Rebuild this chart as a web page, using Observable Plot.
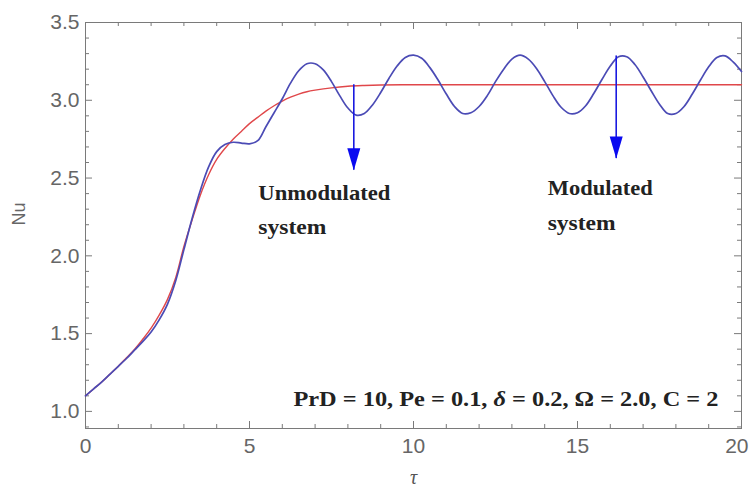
<!DOCTYPE html>
<html><head><meta charset="utf-8">
<script src="https://cdn.jsdelivr.net/npm/d3@7"></script>
<script src="https://cdn.jsdelivr.net/npm/@observablehq/plot@0.6"></script>
<style>body{margin:0;background:#fff}</style>
</head><body><div id="chart"></div>
<script>
// Unmodulated system (red)
const redTau = [0,0.25,0.5,0.75,1,1.25,1.5,1.75,2,2.25,2.5,2.75,3,3.25,3.5,3.75,4,4.25,4.5,4.75,5,5.25,5.5,5.75,6,6.25,6.5,6.75,7,7.5,8,8.5,9,10,11,12,13,14,15,16,17,18,19,20];
const redNu  = [1.100,1.145,1.190,1.240,1.290,1.345,1.400,1.465,1.535,1.620,1.720,1.860,2.060,2.230,2.390,2.520,2.620,2.690,2.750,2.800,2.850,2.890,2.930,2.965,2.995,3.020,3.040,3.055,3.065,3.080,3.090,3.095,3.098,3.100,3.100,3.100,3.100,3.100,3.100,3.100,3.100,3.100,3.100,3.100];
// Modulated system (blue)
const blueTau = [0,0.25,0.5,0.75,1,1.25,1.5,1.75,2,2.25,2.5,2.75,3,3.25,3.5,3.75,4,4.25,4.5,4.75,5,5.25,5.5,5.75,6,6.25,6.5,6.75,7,7.25,7.5,7.75,8,8.25,8.5,8.75,9,9.25,9.5,9.75,10,10.25,10.5,10.75,11,11.25,11.5,11.75,12,12.25,12.5,12.75,13,13.25,13.5,13.75,14,14.25,14.5,14.75,15,15.25,15.5,15.75,16,16.25,16.5,16.75,17,17.25,17.5,17.75,18,18.25,18.5,18.75,19,19.25,19.5,19.75,20];
const blueNu  = [1.100,1.145,1.190,1.240,1.290,1.340,1.395,1.450,1.510,1.590,1.690,1.840,2.040,2.240,2.420,2.570,2.670,2.715,2.730,2.725,2.720,2.740,2.830,2.920,3.010,3.110,3.190,3.235,3.235,3.195,3.120,3.030,2.950,2.905,2.915,2.970,3.050,3.140,3.220,3.275,3.290,3.270,3.210,3.130,3.040,2.960,2.915,2.920,2.960,3.030,3.120,3.200,3.265,3.290,3.265,3.205,3.120,3.030,2.955,2.915,2.920,2.965,3.045,3.135,3.220,3.280,3.280,3.230,3.150,3.060,2.975,2.915,2.915,2.960,3.040,3.130,3.215,3.275,3.285,3.245,3.185];

const xMajorTicks = [0,5,10,15,20];
const xMinorTicks = [1,2,3,4,6,7,8,9,11,12,13,14,16,17,18,19];
const yMajorTicks = [1.0,1.5,2.0,2.5,3.0,3.5];
const yMinorTicks = [0.9,1.1,1.2,1.3,1.4,1.6,1.7,1.8,1.9,2.1,2.2,2.3,2.4,2.6,2.7,2.8,2.9,3.1,3.2,3.3,3.4];
const xLabel = "τ";
const yLabel = "Nu";

const arrowTau  = [8.18, 16.18];
const arrowFrom = [3.10, 3.285];
const arrowTo   = [2.55, 2.625];

const noteText = ["Unmodulated","system","Modulated","system"];
const noteTau  = [5.27, 5.27, 14.09, 14.09];
const noteNu   = [2.357, 2.140, 2.389, 2.164];

const paramText = "PrD = 10, Pe = 0.1, δ = 0.2, Ω = 2.0, C = 2";
const paramTau = 6.34, paramNu = 1.035;

// build tables
const red = redTau.map((t,i)=>({tau:t, nu:redNu[i]}));
const blue = blueTau.map((t,i)=>({tau:t, nu:blueNu[i]}));
const arrows = arrowTau.map((t,i)=>({tau:t, from:arrowFrom[i], to:arrowTo[i]}));
const notes = noteText.map((s,i)=>({text:s, tau:noteTau[i], nu:noteNu[i]}));
const params = [{text:paramText, tau:paramTau, nu:paramNu}];

const W = 749, Hgt = 493, mL = 85, mR = 8, mT = 22, mB = 65;
const fw = W - mL - mR, fh = Hgt - mT - mB;
const grey = "#7a7a7a", labelGrey = "#666";
const major = 7, minor = 4;

const headSymbol = { draw(ctx) { ctx.moveTo(-6.5,-22); ctx.lineTo(6.5,-22); ctx.lineTo(0,0); ctx.closePath(); } };

const lastX = xMajorTicks[xMajorTicks.length - 1];
const innerX = xMajorTicks.slice(0, -1);

const chart = Plot.plot({
  width: W, height: Hgt,
  marginLeft: mL, marginRight: mR, marginTop: mT, marginBottom: mB,
  style: {fontFamily: "Liberation Sans, Arial, sans-serif", fontSize: "21px", background: "#fff"},
  x: {domain: [0, 20]},
  y: {domain: [0.89, 3.5]},
  marks: [
    Plot.frame({stroke: grey}),
    Plot.tickX(xMajorTicks, {x: d=>d, insetTop: fh - major, stroke: grey}),
    Plot.tickX(xMajorTicks, {x: d=>d, insetBottom: fh - major, stroke: grey}),
    Plot.tickX(xMinorTicks, {x: d=>d, insetTop: fh - minor, stroke: grey}),
    Plot.tickX(xMinorTicks, {x: d=>d, insetBottom: fh - minor, stroke: grey}),
    Plot.tickY(yMajorTicks, {y: d=>d, insetRight: fw - major, stroke: grey}),
    Plot.tickY(yMajorTicks, {y: d=>d, insetLeft: fw - major, stroke: grey}),
    Plot.tickY(yMinorTicks, {y: d=>d, insetRight: fw - minor, stroke: grey}),
    Plot.tickY(yMinorTicks, {y: d=>d, insetLeft: fw - minor, stroke: grey}),
    Plot.axisX({ticks: innerX, tickFormat: d=>String(d), tickSize: 0, tickPadding: 10, label: null, fill: labelGrey}),
    Plot.axisX({ticks: [lastX], tickFormat: d=>String(d), tickSize: 0, tickPadding: 10, label: null, fill: labelGrey, textAnchor: "end", dx: 7}),
    Plot.axisY({ticks: yMajorTicks, tickFormat: d3.format(".1f"), tickSize: 0, tickPadding: 6, label: null, fill: labelGrey}),
    Plot.text([yLabel], {text: d=>d, frameAnchor: "left", dx: -66, rotate: -90, fontSize: 18, fill: labelGrey}),
    Plot.text([xLabel], {text: d=>d, frameAnchor: "bottom", dy: 55, fontSize: 20, fontStyle: "italic", fontFamily: "Liberation Serif, serif", fill: "#555"}),
    Plot.line(red, {x: "tau", y: "nu", stroke: "#e0474a", strokeWidth: 1.4, curve: "catmull-rom"}),
    Plot.line(blue, {x: "tau", y: "nu", stroke: "#4b4bb5", strokeWidth: 1.7, curve: "catmull-rom"}),
    Plot.ruleX(arrows, {x: "tau", y1: "from", y2: "to", stroke: "#1a1ae0", strokeWidth: 1.6}),
    Plot.dot(arrows, {x: "tau", y: "to", symbol: headSymbol, fill: "#0a0af0", stroke: "none", r: 5}),
    Plot.text(notes, {x: "tau", y: "nu", text: "text", textAnchor: "start", lineAnchor: "bottom", fontSize: 22, fontWeight: "bold", fontFamily: "Liberation Serif, serif", fill: "#222"}),
    Plot.text(params, {x: "tau", y: "nu", text: "text", textAnchor: "start", lineAnchor: "bottom", fontSize: 22, fontWeight: "bold", fontFamily: "Liberation Serif, serif", fill: "#222"})
  ]
});
document.getElementById("chart").append(chart);

// fit annotation widths to the reference
const widths = {"Unmodulated": 132, "Modulated": 105, "system": 68};
chart.querySelectorAll("text").forEach(t => {
  const s = t.textContent;
  const g = t.closest("g");
  const isBold = g && g.getAttribute("font-weight") === "bold";
  if (s === paramText) {
    t.innerHTML = 'PrD = 10, Pe = 0.1, <tspan font-style="italic">δ</tspan> = 0.2, Ω = 2.0, C = 2';
    t.setAttribute("textLength", 425);
    t.setAttribute("lengthAdjust", "spacingAndGlyphs");
  } else if (widths[s] && isBold) {
    t.setAttribute("textLength", widths[s]);
    t.setAttribute("lengthAdjust", "spacingAndGlyphs");
  }
});
</script>
</body></html>
